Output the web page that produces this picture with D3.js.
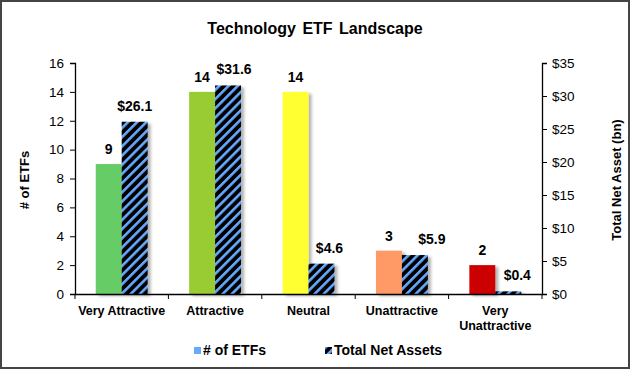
<!DOCTYPE html>
<html><head><meta charset="utf-8">
<script src="https://cdn.jsdelivr.net/npm/d3@7"></script>
<style>
body{margin:0;background:#fff;}
svg{display:block;font-family:"Liberation Sans",Arial,sans-serif;}
</style></head>
<body><svg id="c" width="630" height="369"></svg>
<script>
const categories = ["Very Attractive","Attractive","Neutral","Unattractive","Very Unattractive"];
const etfCounts = [9,14,14,3,2];
const netAssets = [26.1,31.6,4.6,5.9,0.4];
const barColors = ["#66CC66","#99CC33","#FFFF33","#FF9966","#CC0000"];
const leftTicks = [0,2,4,6,8,10,12,14,16];
const rightTicks = [0,5,10,15,20,25,30,35];
// label nudges (styling, px)
const assetLabelDx = [0,6,8,17,9];

const svg = d3.select("#c");
const W=630,H=369;
svg.append("rect").attr("x",1).attr("y",1).attr("width",W-2).attr("height",H-2)
  .attr("fill","#fff").attr("stroke","#444").attr("stroke-width",2);

const defs = svg.append("defs");
const pat = defs.append("pattern").attr("id","hatch").attr("patternUnits","userSpaceOnUse")
  .attr("width",6.5).attr("height",6.5).attr("patternTransform","rotate(45)");
pat.append("rect").attr("width",6.5).attr("height",6.5).attr("fill","#000");
pat.append("rect").attr("width",2.6).attr("height",6.5).attr("fill","#66AAFF");
const f = defs.append("filter").attr("id","sh").attr("x","-30%").attr("y","-30%").attr("width","180%").attr("height","160%");
f.append("feDropShadow").attr("dx",3).attr("dy",2).attr("stdDeviation",1.8).attr("flood-color","#000").attr("flood-opacity",0.3);

const L=75,R=542,T=63,B=294;
const x = d3.scaleBand().domain(categories).range([L,R]).paddingInner(0).paddingOuter(0);
const inner = d3.scaleBand().domain(["etf","tna"]).range([0,x.bandwidth()]).paddingOuter(0.8).paddingInner(0);
const yL = d3.scaleLinear().domain([0,16]).range([B,T]);
const yR = d3.scaleLinear().domain([0,35]).range([B,T]);

svg.append("text").attr("x",315).attr("y",34).attr("text-anchor","middle")
  .attr("font-size",16).attr("font-weight","bold").attr("word-spacing","2px").text("Technology ETF Landscape");

// bars
const g = svg.append("g");
categories.forEach((c,i)=>{
  g.append("rect").attr("x",x(c)+inner("etf")).attr("y",yL(etfCounts[i]))
    .attr("width",inner.bandwidth()).attr("height",B-yL(etfCounts[i]))
    .attr("fill",barColors[i]).attr("filter","url(#sh)");
  g.append("rect").attr("x",x(c)+inner("tna")).attr("y",yR(netAssets[i]))
    .attr("width",inner.bandwidth()).attr("height",B-yR(netAssets[i]))
    .attr("fill","url(#hatch)").attr("filter","url(#sh)");
});
// labels
categories.forEach((c,i)=>{
  g.append("text").attr("x",x(c)+inner("etf")+inner.bandwidth()/2).attr("y",yL(etfCounts[i])-10)
    .attr("text-anchor","middle").attr("font-size",14).attr("font-weight","bold").text(etfCounts[i]);
  g.append("text").attr("x",x(c)+inner("tna")+inner.bandwidth()/2+assetLabelDx[i]).attr("y",yR(netAssets[i])-11)
    .attr("text-anchor","middle").attr("font-size",14).attr("font-weight","bold").text("$"+netAssets[i].toFixed(1));
});

// axes
const aL = svg.append("g").attr("transform",`translate(${L},0)`)
  .call(d3.axisLeft(yL).tickValues(leftTicks).tickSize(5).tickPadding(6));
const aR = svg.append("g").attr("transform",`translate(${R},0)`)
  .call(d3.axisRight(yR).tickValues(rightTicks).tickSize(5).tickPadding(5).tickFormat(d=>"$"+d));
const aB = svg.append("g").attr("transform",`translate(0,${B})`)
  .call(d3.axisBottom(x).tickSize(0).tickFormat(""));
[aL,aR].forEach(a=>{
  a.selectAll("text").attr("font-size",13.5).attr("fill","#000").attr("font-family","Liberation Sans, Arial, sans-serif");
  a.selectAll("line").attr("stroke","#000");
  a.select(".domain").attr("stroke","#000").attr("stroke-width",1.3);
});
aB.select(".domain").attr("stroke","#000").attr("stroke-width",1.3);
// category boundary ticks
const bounds = categories.map(c=>x(c)).concat([R]);
aB.selectAll(".bt").data(bounds).enter().append("line").attr("x1",d=>d).attr("x2",d=>d)
  .attr("y1",0).attr("y2",5).attr("stroke","#000");
// category labels
categories.forEach((c,i)=>{
  const cx = x(c)+x.bandwidth()/2;
  const words = c==="Very Unattractive" ? ["Very","Unattractive"] : [c];
  words.forEach((w,k)=>{
    svg.append("text").attr("x",cx).attr("y",315+k*15).attr("text-anchor","middle")
      .attr("font-size",12.5).attr("font-weight","bold").text(w);
  });
});

// axis titles
svg.append("text").attr("transform","translate(29,180) rotate(-90)").attr("text-anchor","middle")
  .attr("font-size",13).attr("font-weight","bold").text("# of ETFs");
svg.append("text").attr("transform","translate(621,180) rotate(-90)").attr("text-anchor","middle")
  .attr("font-size",13).attr("font-weight","bold").text("Total Net Asset (bn)");

// legend
const lg = svg.append("g");
lg.append("rect").attr("x",194).attr("y",347).attr("width",7).attr("height",7).attr("fill","#66AAFF");
lg.append("text").attr("x",203).attr("y",355).attr("font-size",14).attr("font-weight","bold").text("# of ETFs");
lg.append("rect").attr("x",325).attr("y",347).attr("width",7).attr("height",7).attr("fill","url(#hatch)");
lg.append("text").attr("x",334).attr("y",355).attr("font-size",14).attr("font-weight","bold").text("Total Net Assets");
</script></body></html>
